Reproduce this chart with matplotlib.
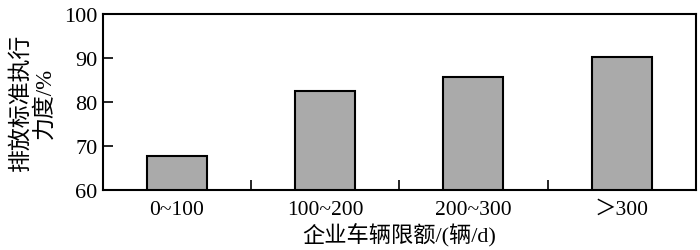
import matplotlib.pyplot as plt
import numpy as np

plt.rcParams['font.family'] = ['Liberation Serif', 'Noto Sans CJK SC']

# Data
categories = ['0~100', '100~200', '200~300', '＞300']
values = [67.7, 82.5, 85.7, 90.2]

fig = plt.figure(figsize=(7, 2.51), dpi=100)
ax = fig.add_axes([0.147, 0.239, 0.847, 0.701])

x = np.arange(len(categories))
ax.bar(x, values, width=0.405, color='#aaaaaa', edgecolor='black', linewidth=1.5)

ax.set_xlim(-0.5, len(categories) - 0.5)
ax.set_ylim(60, 100)
ax.set_yticks([60, 70, 80, 90, 100])

# category labels in the middle, tick marks at the boundaries
ax.set_xticks(x)
ax.set_xticklabels(categories, fontsize=15.5)
ax.tick_params(axis='x', length=0, pad=7)
ax.set_xticks(np.arange(0.5, len(categories) - 1, 1), minor=True)
ax.tick_params(axis='x', which='minor', direction='in', length=7, width=1.2)
ax.tick_params(axis='y', direction='in', length=7, width=1.2, labelsize=16, pad=4)

for s in ax.spines.values():
    s.set_linewidth(1.5)

ax.set_xlabel('企业车辆限额/(辆/d)', fontsize=16, labelpad=3)
ax.set_ylabel('排放标准执行\n力度/%', fontsize=16.5, linespacing=1.15, labelpad=6)

fig.savefig('out.png', dpi=100)
